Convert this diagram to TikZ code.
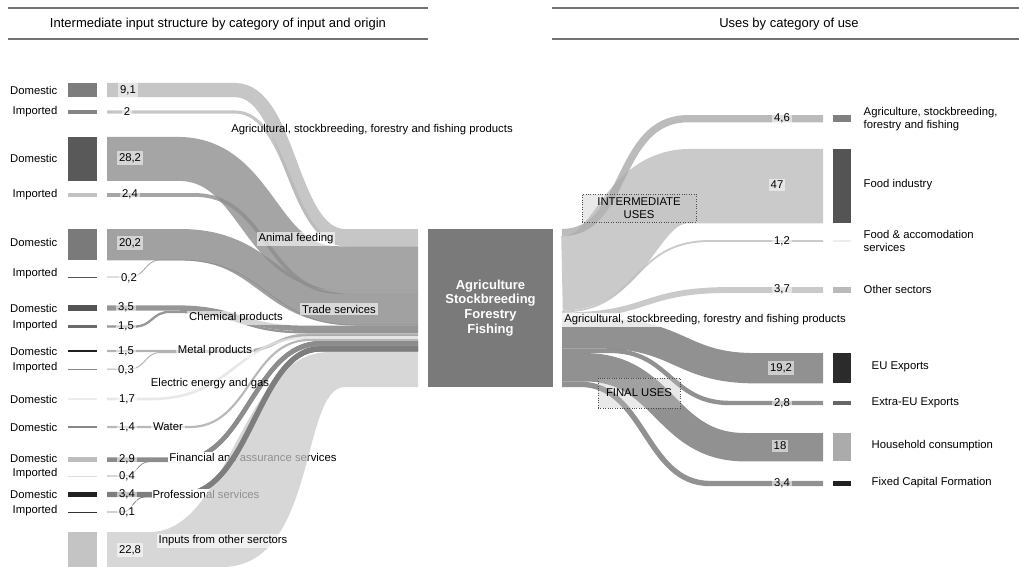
\documentclass[tikz,border=0pt]{standalone}
\usepackage{fontspec}
\setmainfont{Liberation Sans}
\definecolor{agr}{HTML}{B8B8B8}
\definecolor{anim}{HTML}{8E8E8E}
\definecolor{trad}{HTML}{8A8A8A}
\definecolor{chem}{HTML}{7C7C7C}
\definecolor{metal}{HTML}{A0A0A0}
\definecolor{elec}{HTML}{E2E2E2}
\definecolor{water}{HTML}{A8A8A8}
\definecolor{fin}{HTML}{8C8C8C}
\definecolor{prof}{HTML}{7E7E7E}
\definecolor{other}{HTML}{C8C8C8}
\definecolor{interm}{HTML}{BDBDBD}
\definecolor{agrout}{HTML}{AAAAAA}
\definecolor{final}{HTML}{767676}
\definecolor{center}{HTML}{7A7A7A}
\begin{document}
\begin{tikzpicture}[x=1pt,y=-1pt,
  lbl/.style={font=\fontsize{11.3}{12.8}\selectfont, inner sep=1.5pt},
  numlbl/.style={lbl, fill=white, fill opacity=0.55, text opacity=1, inner sep=2pt},
  catlbl/.style={lbl, fill=white, fill opacity=0.6, text opacity=1, inner sep=2pt},
  side/.style={lbl, anchor=east},
  rside/.style={lbl, anchor=west, align=left},
  flow/.style={line cap=butt, draw opacity=0.8},
  hdr/.style={draw=black!55, line width=1.5pt},
  usebox/.style={lbl, draw=black!70, dotted, fill=black!25, fill opacity=0.35, text opacity=1, align=center},
  finpath/.style={line cap=butt, fin, line width=4.5pt},
  profpath/.style={line cap=butt, prof, line width=5.3pt},
]
\useasboundingbox (0,0) rectangle (1019,567);

% headers
\draw[hdr] (8,8) -- (428,8);
\draw[hdr] (8,39) -- (428,39);
\node[font=\fontsize{13}{15}\selectfont] (h1) at (218,24) {Intermediate input structure by category of input and origin};
\draw[hdr] (552,8) -- (1019,8);
\draw[hdr] (552,39) -- (1019,39);
\node[font=\fontsize{13}{15}\selectfont] (h2) at (789,24) {Uses by category of use};

% ---------- left flows ----------
\draw[flow, agr, line width=14.2pt] (107,90.1) -- (235,90.1) .. controls (290,90.1) and (290,236.1) .. (345,236.1) -- (418,236.1);
\draw[flow, agr, line width=3.1pt] (107,112) -- (235,112) .. controls (290,112) and (290,244.7) .. (345,244.7) -- (418,244.7);
\draw[flow, trad, line width=31.4pt] (107,244.7) -- (180,244.7) .. controls (268,244.7) and (268,309.6) .. (355,309.6) -- (418,309.6);
\draw[flow, trad, line width=0.8pt] (107,277) -- (130,277) .. controls (145,277) and (145,260) .. (160,260) -- (180,260) .. controls (268,260) and (268,325.1) .. (355,325.1) -- (418,325.1);
\draw[flow, anim, line width=43.9pt] (107,158.9) -- (178,158.9) .. controls (258,158.9) and (258,268.2) .. (338,268.2) -- (418,268.2);
\draw[flow, anim, line width=3.7pt] (107,195) -- (195,195) .. controls (267,195) and (267,292) .. (338,292) -- (418,292);
\draw[flow, chem, line width=5.4pt] (107,308) -- (175,308) .. controls (240,308) and (240,328.3) .. (305,328.3) -- (418,328.3);
\draw[flow, chem, line width=2.3pt] (107,326.5) -- (135,326.5) .. controls (152,326.5) and (152,311.9) .. (170,311.9) -- (175,311.9) .. controls (240,311.9) and (240,332.3) .. (305,332.3) -- (418,332.3);
\draw[flow, metal, line width=2.3pt] (107,351) -- (240,351) .. controls (275,351) and (275,334.6) .. (310,334.6) -- (418,334.6);
\draw[flow, metal, line width=1pt] (107,369) -- (130,369) .. controls (145,369) and (145,352.6) .. (160,352.6) -- (240,352.6) .. controls (275,352.6) and (275,335.9) .. (310,335.9) -- (418,335.9);
\draw[flow, elec, line width=2.6pt] (107,399) -- (150,399) .. controls (235,399) and (235,337.5) .. (310,337.5) -- (418,337.5);
\draw[flow, water, line width=2.2pt] (107,427) -- (190,427) .. controls (250,427) and (250,339.9) .. (310,339.9) -- (418,339.9);

% financial / professional flows and their labels
\def\finflow{(107,459.5) -- (182,459.5) .. controls (245,459.5) and (255,343.3) .. (320,343.3) -- (418,343.3)}
\def\finimp{(107,476) -- (125,476) .. controls (137,476) and (137,461.6) .. (150,461.6) -- (182,461.6) .. controls (245,461.6) and (255,345.8) .. (320,345.8) -- (418,345.8)}
\def\profflow{(107,494.5) -- (182,494.5) .. controls (250,494.5) and (258,348.8) .. (320,348.8) -- (418,348.8)}
\def\profimp{(107,512) -- (122,512) .. controls (133,512) and (133,497) .. (145,497) -- (182,497) .. controls (250,497) and (258,351.2) .. (320,351.2) -- (418,351.2)}
\draw[finpath] \finflow;
\draw[line cap=butt, fin, line width=0.8pt] \finimp;
\node[lbl, fill=white, inner sep=1pt] (lfin) at (253,457) {Financial and assurance services};
\draw[profpath] \profflow;
\draw[line cap=butt, prof, line width=0.8pt] \profimp;
\node[lbl, fill=white, inner sep=1pt] (lprof) at (206,494) {Professional services};

% inputs from other sectors (drawn over the labels)
\fill[other, fill opacity=0.72] (107,532) -- (150,532) .. controls (230,532) and (240,352) .. (330,352) -- (418,352)
  -- (418,387) -- (345,387) .. controls (300,387) and (318,567) .. (222,567) -- (107,567) -- cycle;

\begin{scope}
\clip (0,0) rectangle (1019,450);
\draw[finpath] \finflow;
\end{scope}
\begin{scope}
\clip (0,0) rectangle (1019,487);
\draw[profpath] \profflow;
\end{scope}

% ---------- left bars ----------
\fill[fill=black!51] (68,83) rectangle (97,97.2);
\fill[fill=black!48] (68,110.5) rectangle (97,113.6);
\fill[fill=black!65] (68,137) rectangle (97,180.9);
\fill[fill=black!24] (68,193.2) rectangle (97,196.9);
\fill[fill=black!52] (68,229) rectangle (97,260.4);
\fill[fill=black!67] (68,276.5) rectangle (97,277.5);
\fill[fill=black!67] (68,305.3) rectangle (97,310.7);
\fill[fill=black!58] (68,325.3) rectangle (97,327.7);
\fill[fill=black!88] (68,349.8) rectangle (97,352.2);
\fill[fill=black!47] (68,368.5) rectangle (97,369.5);
\fill[fill=black!7] (68,397.7) rectangle (97,400.3);
\fill[fill=black!47] (68,425.9) rectangle (97,428.1);
\fill[fill=black!26] (68,457.3) rectangle (97,461.8);
\fill[fill=black!13] (68,475.5) rectangle (97,476.5);
\fill[fill=black!87] (68,491.9) rectangle (97,497.2);
\fill[fill=black!80] (68,511.5) rectangle (97,512.5);
\fill[fill=black!23] (68,532) rectangle (97,567);

% side labels
\node[side] (d1) at (59,90) {Domestic};
\node[side] (i1) at (59,112) {Imported};
\node[side] (d2) at (59,158) {Domestic};
\node[side] (i2) at (59,195) {Imported};
\node[side] (d3) at (59,242) {Domestic};
\node[side] (i3) at (59,274) {Imported};
\node[side] (d4) at (59,308) {Domestic};
\node[side] (i4) at (59,326) {Imported};
\node[side] (d5) at (59,351) {Domestic};
\node[side] (i5) at (59,368) {Imported};
\node[side] (d6) at (59,399) {Domestic};
\node[side] (d7) at (59,427) {Domestic};
\node[side] (d8) at (59,458) {Domestic};
\node[side] (i8) at (59,474) {Imported};
\node[side] (d9) at (59,494) {Domestic};
\node[side] (i9) at (59,511) {Imported};

% numbers left
\node[numlbl] (n1) at (128,90) {9,1};
\node[numlbl] (n2) at (127,112) {2};
\node[numlbl] (n3) at (130,158) {28,2};
\node[numlbl] (n4) at (130,194) {2,4};
\node[numlbl] (n5) at (130,243) {20,2};
\node[numlbl] (n6) at (129,278) {0,2};
\node[numlbl] (n7) at (126,307) {3,5};
\node[numlbl] (n8) at (126,326) {1,5};
\node[numlbl] (n9) at (126,351) {1,5};
\node[numlbl] (n10) at (126,370) {0,3};
\node[numlbl] (n11) at (127,399) {1,7};
\node[numlbl] (n12) at (127,427) {1,4};
\node[numlbl] (n13) at (127,459) {2,9};
\node[numlbl] (n14) at (127,476) {0,4};
\node[numlbl] (n15) at (127,494) {3,4};
\node[numlbl] (n16) at (127,512) {0,1};
\node[numlbl] (n17) at (130,550) {22,8};

% category labels left
\node[lbl] (c1) at (372,130) {Agricultural, stockbreeding, forestry and fishing products};
\node[catlbl] (c2) at (296,239) {Animal feeding};
\node[catlbl] (c3) at (339,309) {Trade services};
\node[catlbl] (c4) at (236,318) {Chemical products};
\node[catlbl] (c5) at (215,351) {Metal products};
\node[lbl] (c6) at (210,384) {Electric energy and gas};
\node[catlbl] (c7) at (168,427) {Water};
\node[catlbl] (c10) at (223,541) {Inputs from other serctors};

% ---------- centre ----------
\node[fill=center, minimum width=125pt, minimum height=158pt, inner sep=0pt, text=white, align=center,
  font=\fontsize{13}{14.7}\selectfont\bfseries] (ctr) at (490.5,308) {Agriculture\\Stockbreeding\\Forestry\\Fishing};

% ---------- right flows ----------
\draw[flow, interm, line width=74.3pt] (562,273.4) .. controls (626,273.4) and (626,186.1) .. (690,186.1) -- (823,186.1);
\draw[flow, interm, line width=1.9pt] (562,311.5) .. controls (640,311.5) and (630,241) .. (710,241) -- (823,241);
\draw[flow, interm, line width=5.85pt] (562,315.4) .. controls (650,315.4) and (640,290) .. (730,290) -- (823,290);
\draw[flow, agrout, line width=7.3pt] (562,232.6) .. controls (628,232.6) and (615,118.7) .. (688,118.7) -- (823,118.7);
\draw[flow, final, line width=30.3pt] (562,333.5) -- (600,333.5) .. controls (680,333.5) and (680,368.2) .. (755,368.2) -- (823,368.2);
\draw[flow, final, line width=4.4pt] (562,350.9) -- (610,350.9) .. controls (670,350.9) and (670,403) .. (730,403) -- (823,403);
\draw[flow, final, line width=28.4pt] (562,367.3) -- (585,367.3) .. controls (665,367.3) and (665,447.2) .. (745,447.2) -- (823,447.2);
\draw[flow, final, line width=5.4pt] (562,384.3) -- (580,384.3) .. controls (645,384.3) and (645,483.5) .. (710,483.5) -- (823,483.5);

% right bars
\fill[fill=black!50] (833,115) rectangle (851,122.3);
\fill[fill=black!67] (833,149) rectangle (851,223.3);
\fill[fill=black!7] (833,240) rectangle (851,242);
\fill[fill=black!27] (833,287) rectangle (851,293);
\fill[fill=black!83] (833,353) rectangle (851,383.3);
\fill[fill=black!60] (833,400.8) rectangle (851,405.2);
\fill[fill=black!33] (833,433) rectangle (851,461.4);
\fill[fill=black!87] (833,480.8) rectangle (851,486.2);

% right numbers
\node[numlbl] (r1) at (782,118) {4,6};
\node[numlbl] (r2) at (777,185) {47};
\node[numlbl] (r3) at (782,241) {1,2};
\node[numlbl] (r4) at (782,289) {3,7};
\node[numlbl] (r5) at (781,368) {19,2};
\node[numlbl] (r6) at (782,403) {2,8};
\node[numlbl] (r7) at (780,446) {18};
\node[numlbl] (r8) at (782,483) {3,4};

% right labels
\node[rside] (u1) at (862,119) {Agriculture, stockbreeding,\\forestry and fishing};
\node[rside] (u2) at (862,185) {Food industry};
\node[rside] (u3) at (862,241) {Food \& accomodation\\services};
\node[rside] (u4) at (862,289) {Other sectors};
\node[rside] (u5) at (870,367) {EU Exports};
\node[rside] (u6) at (870,403) {Extra-EU Exports};
\node[rside] (u7) at (870,446) {Household consumption};
\node[rside] (u8) at (870,483) {Fixed Capital Formation};

\node[catlbl, fill opacity=0.8] (rp) at (705,320) {Agricultural, stockbreeding, forestry and fishing products};
\node[usebox, minimum width=114pt, minimum height=28pt, inner sep=1pt] (iu) at (639,208) {INTERMEDIATE\\USES};
\node[usebox, minimum width=82pt, minimum height=30pt] (fu) at (639,393) {FINAL USES};
\end{tikzpicture}
\end{document}
